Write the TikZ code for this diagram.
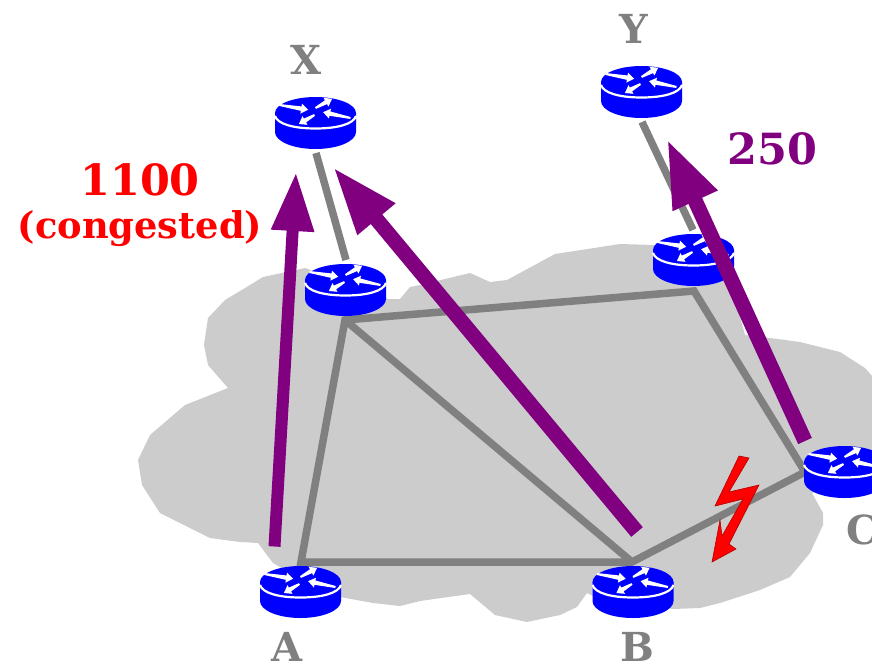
\documentclass[tikz,border=0pt]{standalone}
\usepackage{fontspec}
\setmainfont{DejaVu Serif}
\usetikzlibrary{arrows.meta}
\definecolor{cloudgray}{RGB}{204,204,204}
\definecolor{linkgray}{RGB}{128,128,128}
\definecolor{flow}{RGB}{128,0,128}
\definecolor{routerblue}{RGB}{0,0,255}
\tikzset{
  x=1pt,y=-1pt,
  link/.style={draw=linkgray,line width=7.5pt},
  flowthin/.style={draw=flow,line width=12pt,-{Triangle[length=59pt,width=40pt]}},
  flowthick/.style={draw=flow,line width=15pt,-{Triangle[length=68pt,width=45pt]}},
  namelabel/.style={text=linkgray,font=\fontsize{40}{40}\selectfont\bfseries,inner sep=0pt,anchor=base},
  flowlabel/.style={text=flow,font=\fontsize{43}{43}\selectfont\bfseries,inner sep=0pt},
  redlabel/.style={text=red,inner sep=0pt},
  router/.pic={
    \fill[routerblue] (-40.5,0) -- (-40.5,19) .. controls (-40.5,28.5) and (-22,36) .. (0,36) .. controls (22,36) and (40.5,28.5) .. (40.5,19) -- (40.5,0) -- cycle;
    \fill[routerblue] (0,0) ellipse[x radius=40.5,y radius=16];
    \draw[white,line width=2.2pt] (-40.5,3) .. controls (-38,11) and (-22,15.5) .. (0,15.5) .. controls (22,15.5) and (38,11) .. (40.5,3);
    \foreach \tx/\ty/\ang/\len in {-36/-8/-9.5/29, 0/-5/29/19, 35/5/168/28, -1/2/210/18}{
      \fill[white,shift={(\tx,\ty)},rotate=\ang] (0,-1) -- (\len-7,-2.2) -- (\len-7,-5) -- (\len,0) -- (\len-7,5) -- (\len-7,2.2) -- (0,1) -- cycle;
    }
  }
}
\begin{document}
\begin{tikzpicture}
\useasboundingbox (0,0) rectangle (872,664);
\clip (0,0) rectangle (872,664);
% cloud
\fill[cloudgray] (208,318) -- (225,300) -- (250,285) -- (263,277) -- (305,268) -- (388,299) -- (400,299) -- (410,287) -- (420,285) -- (470,273) -- (490,282) -- (507,280) -- (555,254) -- (620,244) -- (655,245) -- (725,262) -- (745,335) -- (770,338) -- (800,342) -- (840,352) -- (865,368) -- (880,385) -- (880,470) -- (812,493) -- (823,513) -- (823,525) -- (810,553) -- (790,577) -- (760,590) -- (720,603) -- (700,608) -- (673,609) -- (593,596) -- (587,593) -- (577,607) -- (560,615) -- (527,622) -- (495,615) -- (470,594) -- (420,601) -- (400,606) -- (373,603) -- (340,597) -- (280,567) -- (273,563) -- (258,543) -- (240,542) -- (210,538) -- (160,513) -- (142,485) -- (138,460) -- (150,435) -- (185,405) -- (228,388) -- (208,365) -- (204,345) -- cycle;
% anchor points of the links
\coordinate (xr) at (316,153);
\coordinate (xt) at (346,260);
\coordinate (yr) at (642,122);
\coordinate (yt) at (693,230);
\coordinate (pa) at (301,562);
\coordinate (pb) at (632,562);
\coordinate (pc) at (805,472);
\coordinate (py) at (694,291);
\coordinate (px) at (345,320);
% links
\draw[link] (xr) -- (xt);
\draw[link] (yr) -- (yt);
\draw[link,line join=miter] (px) -- (py) -- (pc) -- (pb) -- (pa) -- cycle;
\draw[link] (px) -- (pb);
% routers
\pic (rx) at (315.5,113) {router};
\pic (ry) at (641.5,82) {router};
\pic (rxt) at (345.5,280) {router};
\pic (ryt) at (693.5,250) {router};
\pic (ra) at (300.5,582) {router};
\pic (rb) at (633,582) {router};
\pic (rc) at (844.5,462) {router};
% flows
\coordinate (f1s) at (274.5,546.5);
\coordinate (f1e) at (296,172);
\coordinate (f2s) at (637,532);
\coordinate (f2e) at (333,167);
\coordinate (f3s) at (805,441);
\coordinate (f3e) at (667,139);
\draw[flowthin] (f1s) -- (f1e);
\draw[flowthick] (f2s) -- (f2e);
\draw[flowthick] (f3s) -- (f3e);
% lightning
\filldraw[fill=red,draw=red!70!black,line width=.6pt] (739,456) -- (749,458) -- (729,492) -- (759,485) -- (729,544) -- (736,549) -- (712,562) -- (720,520) -- (722,536) -- (743,499) -- (715,506) -- cycle;
% labels
\node[namelabel] (lx) at (306,74) {X};
\node[namelabel] (ly) at (634,43) {Y};
\node[namelabel] (la) at (287.5,661) {A};
\node[namelabel] (lb) at (637.5,661) {B};
\node[namelabel] (lc) at (862,544) {C};
\node[flowlabel] (l250) at (772.5,149) {250};
\node[redlabel,font=\fontsize{43}{43}\selectfont\bfseries] (l1100) at (140,180) {1100};
\node[redlabel,font=\fontsize{36.8}{37}\selectfont\bfseries] (lcong) at (140,229) {(congested)};
\end{tikzpicture}
\end{document}
